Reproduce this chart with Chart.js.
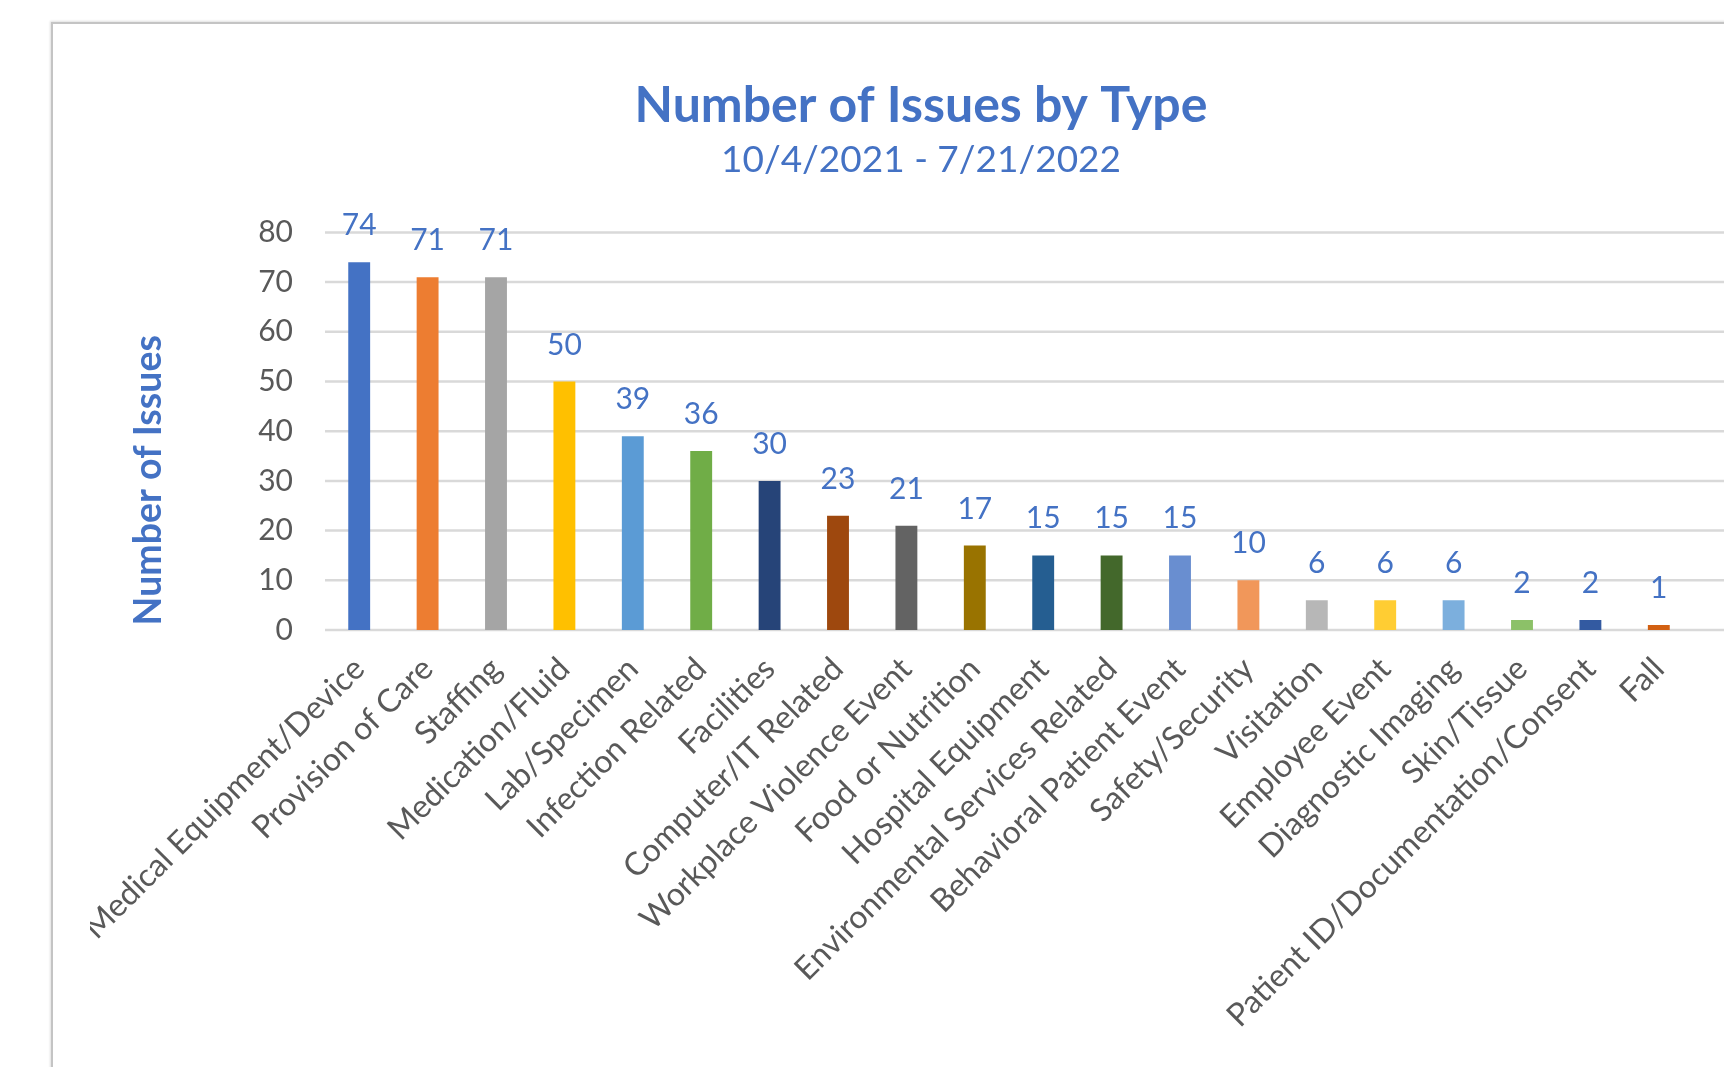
<!DOCTYPE html>
<html><head><meta charset="utf-8">
<script src="https://cdn.jsdelivr.net/npm/chart.js@4.4.0/dist/chart.umd.min.js"></script>
<style>
html,body{margin:0;padding:0;background:#fff;width:1724px;height:1067px;overflow:hidden;position:relative}
#frame{position:absolute;left:51px;top:22px;width:1800px;height:1200px;border-left:2px solid #c4c4c4;border-top:2px solid #c4c4c4;box-shadow:-1px -1px 2px rgba(0,0,0,0.12)}
#wrap{position:absolute;left:90px;top:0;width:1634px;height:1067px}
</style></head><body>
<div id="frame"></div>
<div id="wrap"><canvas id="c" width="1634" height="1067"></canvas></div>
<script>
const categories = ['Medical Equipment/Device','Provision of Care','Staffing','Medication/Fluid','Lab/Specimen','Infection Related','Facilities','Computer/IT Related','Workplace Violence Event','Food or Nutrition','Hospital Equipment','Environmental Services Related','Behavioral Patient Event','Safety/Security','Visitation','Employee Event','Diagnostic Imaging','Skin/Tissue','Patient ID/Documentation/Consent','Fall'];
const issueCounts = [74,71,71,50,39,36,30,23,21,17,15,15,15,10,6,6,6,2,2,1];
const yTickValues = [0,10,20,30,40,50,60,70,80];
const titleText = 'Number of Issues by Type';
const subtitleText = '10/4/2021 - 7/21/2022';
const yAxisTitle = 'Number of Issues';

const barColors = ['#4472C4','#ED7D31','#A5A5A5','#FFC000','#5B9BD5','#70AD47','#264478','#9E480E','#636363','#997300','#255E91','#43682B','#698ED0','#F1975A','#B7B7B7','#FFCD33','#7CAFDD','#8CC168','#335AA1','#D26012'];
const BLUE = '#4472C4';
const GREY = '#595959';
const FONT = 'Lato';

const extendedGrid = {
  id: 'extendedGrid',
  beforeDatasetsDraw(chart) {
    const {ctx, chartArea, scales: {y}} = chart;
    ctx.save();
    ctx.strokeStyle = '#d9d9d9';
    ctx.lineWidth = 2.5;
    y.ticks.forEach(t => {
      const py = y.getPixelForValue(t.value);
      ctx.beginPath();
      ctx.moveTo(chartArea.left, py);
      ctx.lineTo(chart.width, py);
      ctx.stroke();
    });
    ctx.restore();
  }
};

const valueLabels = {
  id: 'valueLabels',
  afterDatasetsDraw(chart) {
    const {ctx} = chart;
    const meta = chart.getDatasetMeta(0);
    ctx.save();
    ctx.font = '30px ' + FONT;
    ctx.fillStyle = BLUE;
    ctx.textAlign = 'center';
    ctx.textBaseline = 'alphabetic';
    meta.data.forEach((el, i) => {
      ctx.fillText(String(chart.data.datasets[0].data[i]), el.x, el.y - 27);
    });
    ctx.restore();
  }
};

const yTitle = {
  id: 'yTitle',
  afterDraw(chart) {
    const {ctx, chartArea} = chart;
    ctx.save();
    ctx.font = 'bold 37.5px ' + FONT;
    ctx.fillStyle = BLUE;
    ctx.textAlign = 'center';
    ctx.textBaseline = 'middle';
    ctx.translate(chartArea.left - 176, (chartArea.top + chartArea.bottom) / 2 + 49);
    ctx.rotate(-Math.PI / 2);
    ctx.fillText(yAxisTitle, 0, 0);
    ctx.restore();
  }
};

function draw() {
  new Chart(document.getElementById('c'), {
    type: 'bar',
    data: {
      labels: categories,
      datasets: [{
        data: issueCounts,
        backgroundColor: barColors,
        borderWidth: 0,
        barPercentage: 0.32,
        categoryPercentage: 1.0
      }]
    },
    options: {
      responsive: false,
      animation: false,
      devicePixelRatio: 1,
      layout: {padding: {left: 59, right: 31, top: 0, bottom: 0}},
      plugins: {
        legend: {display: false},
        tooltip: {enabled: false},
        title: {
          display: true, text: titleText, color: BLUE,
          font: {family: FONT, size: 50, weight: 'bold'},
          padding: {top: 76, bottom: 0}
        },
        subtitle: {
          display: true, text: subtitleText, color: BLUE,
          font: {family: FONT, size: 37},
          padding: {top: 2, bottom: 50}
        }
      },
      scales: {
        x: {
          grid: {display: false},
          border: {display: false},
          ticks: {
            color: GREY, font: {family: FONT, size: 32},
            minRotation: 45, maxRotation: 45, autoSkip: false, padding: 12
          },
          afterFit(scale) { scale.paddingLeft = 0; scale.paddingRight = 0; scale.height = 437; }
        },
        y: {
          min: yTickValues[0], max: yTickValues[yTickValues.length - 1],
          afterBuildTicks(scale) { scale.ticks = yTickValues.map(v => ({value: v})); },
          grid: {display: false, drawTicks: false},
          border: {display: false},
          ticks: {color: GREY, font: {family: FONT, size: 30}, padding: 32},
          afterFit(scale) { scale.width = 176; }
        }
      }
    },
    plugins: [extendedGrid, valueLabels, yTitle]
  });
}

Promise.all([
  document.fonts.load('30px Lato'),
  document.fonts.load('bold 30px Lato')
]).then(draw, draw);
</script>
</body></html>
